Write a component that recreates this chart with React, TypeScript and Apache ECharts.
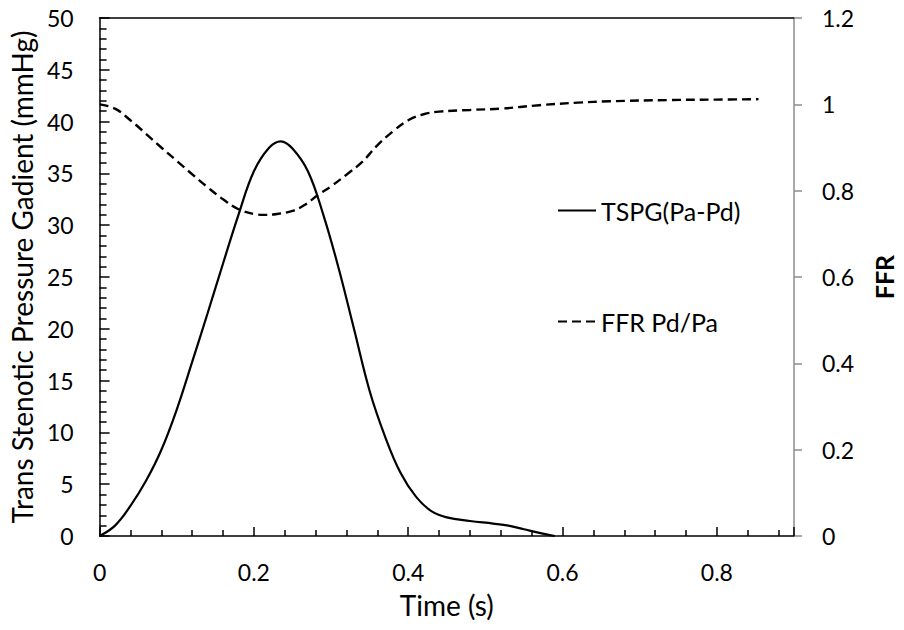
import React, { useEffect, useRef } from "react";
import * as echarts from "echarts";

const tspgTime = [0, 0.02, 0.04, 0.06, 0.08, 0.1, 0.12, 0.14, 0.16, 0.18, 0.2, 0.22, 0.235, 0.25, 0.27, 0.29, 0.31, 0.33, 0.35, 0.37, 0.39, 0.41, 0.43, 0.45, 0.48, 0.51, 0.53, 0.55, 0.57, 0.59];
const tspgValue = [0, 1.0, 2.9, 5.3, 8.3, 12.2, 16.8, 21.5, 26.3, 31.0, 35.2, 37.5, 38.1, 37.4, 35.2, 31.0, 25.8, 19.9, 14.0, 9.6, 6.1, 3.8, 2.4, 1.8, 1.45, 1.2, 1.0, 0.65, 0.3, 0];

const ffrTime = [0, 0.02, 0.04, 0.06, 0.08, 0.1, 0.12, 0.14, 0.16, 0.18, 0.2, 0.215, 0.23, 0.25, 0.265, 0.283, 0.3, 0.32, 0.34, 0.36, 0.38, 0.4, 0.42, 0.44, 0.48, 0.52, 0.57, 0.62, 0.66, 0.74, 0.8, 0.854];
const ffrValue = [1.0, 0.99, 0.963, 0.932, 0.9, 0.869, 0.838, 0.808, 0.78, 0.757, 0.746, 0.744, 0.746, 0.753, 0.766, 0.79, 0.81, 0.837, 0.866, 0.905, 0.937, 0.963, 0.977, 0.983, 0.987, 0.99, 0.998, 1.004, 1.007, 1.01, 1.011, 1.012];

const seriesNames = ["TSPG(Pa-Pd)", "FFR Pd/Pa"];
const axisTitles = { x: "Time (s)", left: "Trans Stenotic Pressure Gadient (mmHg)", right: "FFR" };

const FONT = "Lato";
const FS = 23;
const TITLE_FS = 28;
const LEGEND_FS = 25;

export default function App() {
  const ref = useRef<HTMLDivElement>(null);
  useEffect(() => {
    document.body.style.margin = "0";
    const chart = echarts.init(ref.current!, null, { renderer: "svg" });
    const tspg = tspgTime.map((t, i) => [t, tspgValue[i]]);
    const ffr = ffrTime.map((t, i) => [t, ffrValue[i]]);
    const labelStyle = { color: "#000", fontFamily: FONT, fontSize: FS };
    const titleStyle = { color: "#000", fontFamily: FONT, fontSize: TITLE_FS };
    const legendBase = {
      left: 557,
      orient: "vertical",
      padding: 0,
      itemWidth: 38,
      itemHeight: 14,
      itemGap: 4,
      textStyle: { color: "#000", fontFamily: FONT, fontSize: LEGEND_FS },
      itemStyle: { color: "transparent", borderWidth: 0, opacity: 0 },
      selectedMode: false,
    };
    chart.setOption({
      animation: false,
      backgroundColor: "#fff",
      textStyle: { fontFamily: FONT },
      grid: { left: 98, right: 99, top: 18, bottom: 94 },
      legend: [
        { ...legendBase, data: [seriesNames[0]], top: 198 },
        { ...legendBase, data: [seriesNames[1]], top: 309 },
      ],
      xAxis: [
        {
          type: "value",
          min: 0,
          max: 0.9,
          interval: 0.2,
          name: axisTitles.x,
          nameLocation: "middle",
          nameGap: 55,
          nameTextStyle: titleStyle,
          axisLine: { show: true, onZero: false, lineStyle: { color: "#000", width: 1.5 } },
          axisTick: { show: true, inside: true, length: 9, lineStyle: { color: "#000", width: 1.5 } },
          minorTick: { show: true, splitNumber: 5, length: 6, lineStyle: { color: "#000", width: 1.5 } },
          axisLabel: { ...labelStyle, margin: 24, showMaxLabel: false },
          splitLine: { show: false },
        },
        {
          type: "value",
          position: "top",
          min: 0,
          max: 0.9,
          axisLine: { show: true, onZero: false, lineStyle: { color: "#000", width: 1.5 } },
          axisTick: { show: false },
          axisLabel: { show: false },
          splitLine: { show: false },
        },
      ],
      yAxis: [
        {
          type: "value",
          min: 0,
          max: 50,
          interval: 5,
          position: "left",
          name: axisTitles.left,
          nameLocation: "middle",
          nameGap: 62,
          nameTextStyle: titleStyle,
          axisLine: { show: true, onZero: false, lineStyle: { color: "#000", width: 1.5 } },
          axisTick: { show: true, inside: true, length: 10, lineStyle: { color: "#000", width: 1.5 } },
          minorTick: { show: true, splitNumber: 5, length: 7, lineStyle: { color: "#000", width: 1.5 } },
          axisLabel: { ...labelStyle, margin: 26 },
          splitLine: { show: false },
        },
        {
          type: "value",
          min: 0,
          max: 1.2,
          interval: 0.2,
          position: "right",
          name: axisTitles.right,
          nameLocation: "middle",
          nameGap: 77,
          nameTextStyle: { ...titleStyle, fontSize: 25, fontWeight: "bold" },
          axisLine: { show: true, onZero: false, lineStyle: { color: "#8c8c8c", width: 1.5 } },
          axisTick: { show: true, inside: false, length: 8, lineStyle: { color: "#8c8c8c", width: 1.5 } },
          axisLabel: { ...labelStyle, margin: 28 },
          splitLine: { show: false },
        },
      ],
      series: [
        {
          name: seriesNames[0],
          type: "line",
          xAxisIndex: 0,
          yAxisIndex: 0,
          data: tspg,
          smooth: 0.4,
          symbol: "none",
          lineStyle: { color: "#000", width: 2.2, type: "solid" },
          itemStyle: { color: "#000" },
        },
        {
          name: seriesNames[1],
          type: "line",
          xAxisIndex: 0,
          yAxisIndex: 1,
          data: ffr,
          smooth: 0.4,
          symbol: "none",
          lineStyle: { color: "#000", width: 2.4, type: [9, 5] },
          itemStyle: { color: "#000" },
        },
      ],
    });
    return () => chart.dispose();
  }, []);
  return <div ref={ref} style={{ width: 904, height: 630 }} />;
}
